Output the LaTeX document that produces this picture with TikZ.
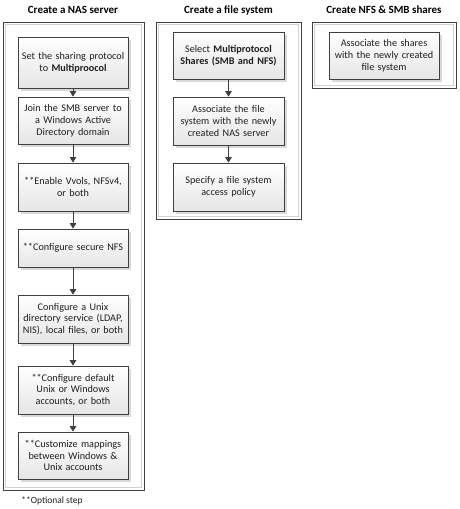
\documentclass[tikz,border=0pt]{standalone}
\usepackage{fontspec}
\setmainfont{Carlito}
\usetikzlibrary{arrows.meta,shadows}
\definecolor{edge}{HTML}{404040}
\begin{document}
\begin{tikzpicture}[x=1pt,y=-1pt,
  stepbox/.style={draw=edge, line width=0.7pt, top color=white, bottom color=black!10,
    drop shadow={shadow xshift=2.5pt, shadow yshift=-2.5pt, fill=black!15, opacity=1},
    text width=106pt, align=center, inner sep=0pt, font=\fontsize{10.2}{11.8}\selectfont,
    text=black!88},
  panel/.style={draw=edge, line width=0.7pt},
  innerpanel/.style={draw=black!18, line width=0.6pt},
  title/.style={font=\fontsize{11}{13}\selectfont\bfseries, text=black},
  flow/.style={draw=edge, line width=0.8pt, -{Triangle[length=5.5pt,width=6.5pt]}},
  note/.style={font=\fontsize{9.5}{11}\selectfont, text=black!88}]
\useasboundingbox (0,0) rectangle (459,509);
% panels
\draw[panel] (3,22) rectangle (144,490);
\draw[innerpanel] (5.5,24.5) rectangle (141.5,487.5);
\draw[panel] (156,22) rectangle (301,219);
\draw[innerpanel] (158.5,24.5) rectangle (298.5,216.5);
\draw[panel] (312,22) rectangle (456,88);
\draw[innerpanel] (314.5,24.5) rectangle (453.5,85.5);
% titles
\node[title] (t1) at (73,10) {Create a NAS server};
\node[title] (t2) at (228.5,10) {Create a file system};
\node[title] (t3) at (384,10) {Create NFS \& SMB shares};
% panel 1
\node[stepbox, minimum width=110pt, minimum height=51pt] (a1) at (73,62.5) {Set the sharing protocol\\to \textbf{Multiproocol}};
\node[stepbox, minimum width=110pt, minimum height=47pt] (a2) at (73,120.5) {Join the SMB server to\\a Windows Active\\Directory domain};
\node[stepbox, minimum width=110pt, minimum height=48pt] (a3) at (73,187) {**Enable Vvols, NFSv4,\\or both};
\node[stepbox, minimum width=110pt, minimum height=38pt] (a4) at (73,248) {**Configure secure NFS};
\node[stepbox, minimum width=110pt, minimum height=48pt] (a5) at (73,319) {Configure a Unix\\directory service (LDAP,\\NIS), local files, or both};
\node[stepbox, minimum width=110pt, minimum height=48pt] (a6) at (73,390) {**Configure default\\Unix or Windows\\accounts, or both};
\node[stepbox, minimum width=110pt, minimum height=47pt] (a7) at (73,455.5) {**Customize mappings\\between Windows \&\\Unix accounts};
\node[note] (n1) at (52,501) {**Optional step};
% panel 2
\node[stepbox, minimum width=111pt, minimum height=47pt] (b1) at (228.5,55.5) {Select \textbf{Multiprotocol}\\\textbf{Shares (SMB and NFS)}};
\node[stepbox, minimum width=111pt, minimum height=48pt] (b2) at (228.5,121) {Associate the file\\system with the newly\\created NAS server};
\node[stepbox, minimum width=111pt, minimum height=48pt] (b3) at (228.5,187) {Specify a file system\\access policy};
% panel 3
\node[stepbox, minimum width=110pt, minimum height=47pt] (c1) at (384,55.5) {Associate the shares\\with the newly created\\file system};
% arrows
\draw[flow] (a1) -- (a2);
\draw[flow] (a2) -- (a3);
\draw[flow] (a3) -- (a4);
\draw[flow] (a4) -- (a5);
\draw[flow] (a5) -- (a6);
\draw[flow] (a6) -- (a7);
\draw[flow] (b1) -- (b2);
\draw[flow] (b2) -- (b3);
\end{tikzpicture}
\end{document}
